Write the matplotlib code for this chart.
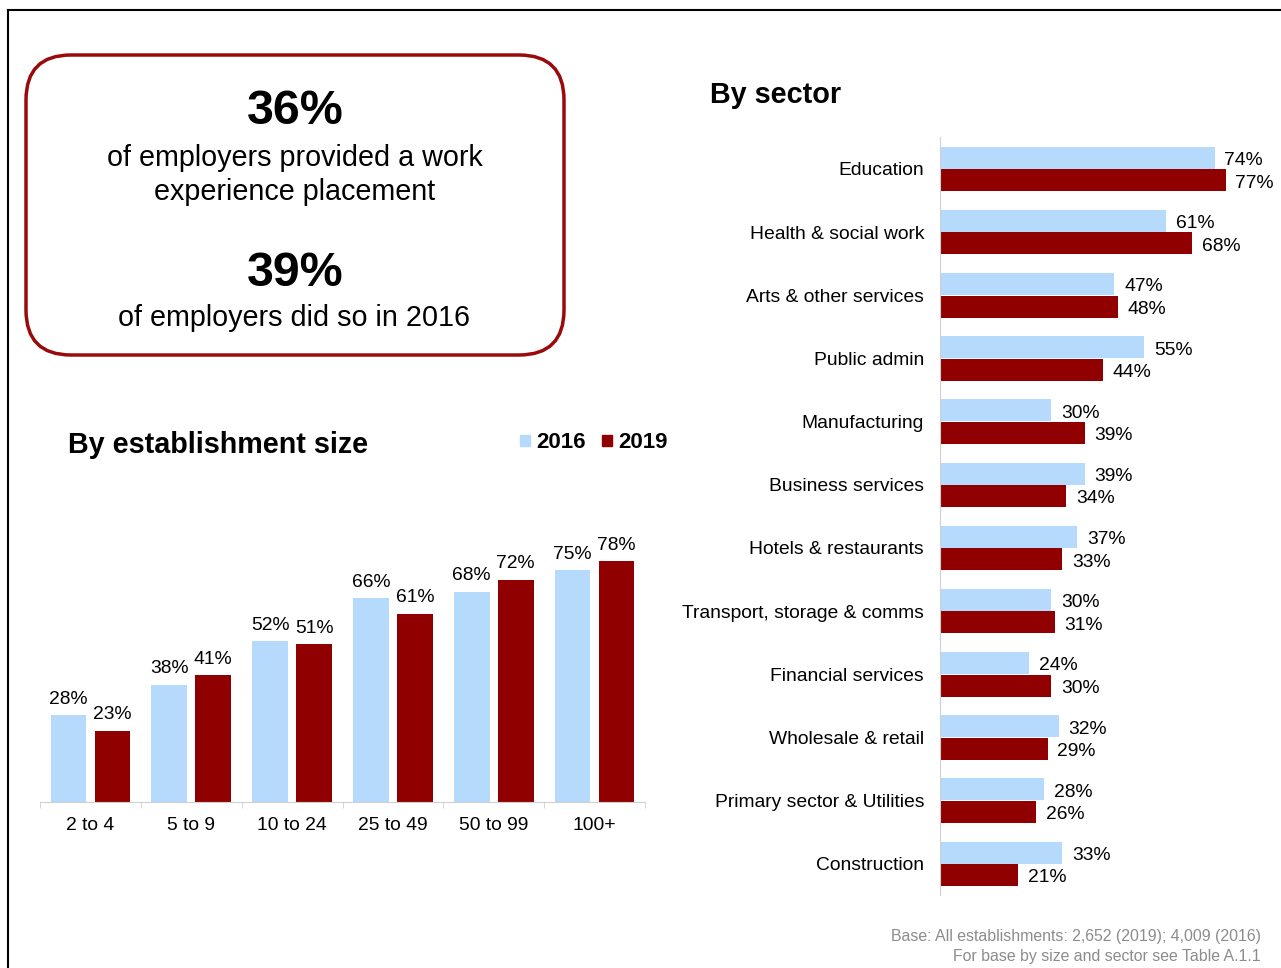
import matplotlib
matplotlib.use("Agg")
import matplotlib.pyplot as plt
import numpy as np
from matplotlib.patches import FancyBboxPatch, Rectangle

plt.rcParams["font.family"] = ["Liberation Sans", "DejaVu Sans"]

# ── data ──────────────────────────────────────────────────────────────────────
SIZE_CATS = ["2 to 4", "5 to 9", "10 to 24", "25 to 49", "50 to 99", "100+"]
SIZE_2016 = [28, 38, 52, 66, 68, 75]
SIZE_2019 = [23, 41, 51, 61, 72, 78]

SECTORS = ["Education", "Health & social work", "Arts & other services",
           "Public admin", "Manufacturing", "Business services",
           "Hotels & restaurants", "Transport, storage & comms",
           "Financial services", "Wholesale & retail",
           "Primary sector & Utilities", "Construction"]
SECTOR_2016 = [74, 61, 47, 55, 30, 39, 37, 30, 24, 32, 28, 33]
SECTOR_2019 = [77, 68, 48, 44, 39, 34, 33, 31, 30, 29, 26, 21]

LIGHT = "#B6DAFC"
DARK = "#910000"
W, H = 1281, 968
FS = 13.9

fig = plt.figure(figsize=(W / 100, H / 100), dpi=100)

# ── background layer in pixel coords ─────────────────────────────────────────
bg = fig.add_axes([0, 0, 1, 1])
bg.set_xlim(0, W)
bg.set_ylim(H, 0)
bg.axis("off")

bg.plot([8, W + 5], [10, 10], color="black", lw=1.5)
bg.plot([8, 8], [10, H + 5], color="black", lw=1.5)

box = FancyBboxPatch((26, 55), 538, 300, boxstyle="round,pad=0,rounding_size=45",
                     fc="white", ec="#9A0A0A", lw=2.5)
bg.add_patch(box)

bg.text(295, 112, "36%", ha="center", va="center", fontsize=34.8, fontweight="bold")
bg.text(295, 158, "of employers provided a work", ha="center", va="center", fontsize=20.7)
bg.text(295, 192, "experience placement", ha="center", va="center", fontsize=20.7)
bg.text(295, 274, "39%", ha="center", va="center", fontsize=34.8, fontweight="bold")
bg.text(294, 318, "of employers did so in 2016", ha="center", va="center", fontsize=20.7)

bg.text(68, 445, "By establishment size", ha="left", va="center",
        fontsize=20.7, fontweight="bold")
bg.text(710, 95, "By sector", ha="left", va="center", fontsize=20.7, fontweight="bold")

# legend
bg.add_patch(Rectangle((520, 435), 10, 11, color=LIGHT))
bg.text(536, 442, "2016", ha="left", va="center", fontsize=16, fontweight="bold")
bg.add_patch(Rectangle((602, 435), 10, 11, color=DARK))
bg.text(618, 442, "2019", ha="left", va="center", fontsize=16, fontweight="bold")

bg.text(1261, 937, "Base: All establishments: 2,652 (2019); 4,009 (2016)",
        ha="right", va="center", fontsize=11.4, color="#8C8C8C")
bg.text(1261, 957, "For base by size and sector see Table A.1.1",
        ha="right", va="center", fontsize=11.4, color="#8C8C8C")

# ── by establishment size ────────────────────────────────────────────────────
ax1 = fig.add_axes([40 / W, (H - 802) / H, 605 / W, 309 / H])
ax1.patch.set_alpha(0)
x = np.arange(len(SIZE_CATS))
bw, off = 0.355, 0.218
b1 = ax1.bar(x - off, SIZE_2016, bw, color=LIGHT)
b2 = ax1.bar(x + off, SIZE_2019, bw, color=DARK)
for bars, vals in ((b1, SIZE_2016), (b2, SIZE_2019)):
    for b, v in zip(bars, vals):
        ax1.annotate(f"{v}%", (b.get_x() + b.get_width() / 2, v),
                     xytext=(0, 11.5), textcoords="offset points",
                     ha="center", va="center", fontsize=FS)
ax1.set_xlim(-0.5, len(SIZE_CATS) - 0.5)
ax1.set_ylim(0, 100)
ax1.set_xticks(x)
ax1.set_xticklabels(SIZE_CATS, fontsize=FS)
ax1.set_xticks(np.arange(-0.5, len(SIZE_CATS)), minor=True)
ax1.tick_params(axis="x", which="major", length=0, pad=10.5)
ax1.tick_params(axis="x", which="minor", length=4, color="#D0D0D0", direction="out")
ax1.set_yticks([])
for s in ("top", "right", "left"):
    ax1.spines[s].set_visible(False)
ax1.spines["bottom"].set_color("#D0D0D0")

# ── by sector ─────────────────────────────────────────────────────────────────
ax2 = fig.add_axes([940 / W, (H - 895.4) / H, 330 / W, 758 / H])
ax2.patch.set_alpha(0)
y = np.arange(len(SECTORS))
bh, yo = 0.348, 0.178
h1 = ax2.barh(y - yo, SECTOR_2016, bh, color=LIGHT)
h2 = ax2.barh(y + yo, SECTOR_2019, bh, color=DARK)
for bars, vals in ((h1, SECTOR_2016), (h2, SECTOR_2019)):
    for b, v in zip(bars, vals):
        ax2.annotate(f"{v}%", (v, b.get_y() + b.get_height() / 2),
                     xytext=(7, -2), textcoords="offset points",
                     ha="left", va="center", fontsize=FS)
ax2.set_xlim(0, 330 / 3.71)
ax2.set_ylim(len(SECTORS) - 0.5, -0.5)
ax2.set_yticks(y)
ax2.set_yticklabels(SECTORS, fontsize=FS)
ax2.tick_params(axis="y", length=0, pad=11.5)
ax2.set_xticks([])
for s in ("top", "right", "bottom"):
    ax2.spines[s].set_visible(False)
ax2.spines["left"].set_color("#D0D0D0")

fig.savefig("out.png", dpi=100)
